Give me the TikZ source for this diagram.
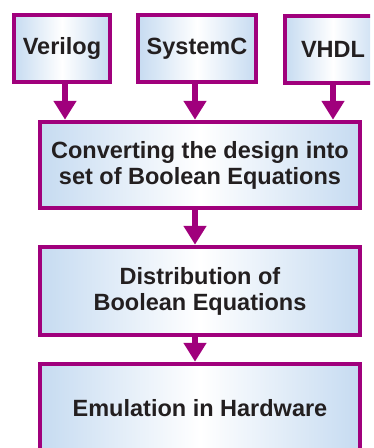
\documentclass[tikz,border=0pt]{standalone}
\usepackage{fontspec}
\setmainfont{Liberation Sans}
\usetikzlibrary{arrows.meta}
\definecolor{edge}{RGB}{160,0,124}
\definecolor{sideblue}{RGB}{198,219,241}
\definecolor{ink}{RGB}{35,31,32}
\tikzset{
  box/.style={draw=edge, line width=4.5pt, left color=sideblue, right color=sideblue, middle color=white,
    font=\fontsize{23.5}{26}\selectfont\bfseries, text=ink, align=center, inner sep=0pt},
  flow/.style={draw=edge, line width=6pt, -{Triangle[length=19pt,width=22pt]}}
}
\begin{document}
\begin{tikzpicture}[x=1pt,y=-1pt]
\useasboundingbox (0,0) rectangle (373,448);
\begin{scope}
\clip (0,0) rectangle (370,448);
\node[box, minimum width=96pt, minimum height=67pt] (verilog) at (62,48.5) {Verilog};
\node[box, minimum width=118pt, minimum height=67pt] (systemc) at (197,48.5) {SystemC};
\node[box, minimum width=96pt, minimum height=67pt] (vhdl) at (333,49.5) {VHDL};
\node[box, minimum width=320pt, minimum height=86pt] (conv) at (200,165) {Converting the design into\\set of Boolean Equations};
\node[box, minimum width=320pt, minimum height=88pt] (dist) at (200,291) {Distribution of\\Boolean Equations};
\node[box, minimum width=320pt, minimum height=88pt] (emu) at (200,408) {Emulation in Hardware};
\draw[flow] ([xshift=3pt]verilog.south) -- ([xshift=3pt]verilog.south |- conv.north);
\draw[flow] ([xshift=-2pt]systemc.south) -- ([xshift=-2pt]systemc.south |- conv.north);
\draw[flow] (vhdl.south) -- (vhdl.south |- conv.north);
\draw[flow] ([xshift=-5pt]conv.south) -- ([xshift=-5pt]conv.south |- dist.north);
\draw[flow] ([xshift=-5pt]dist.south) -- ([xshift=-5pt]dist.south |- emu.north);
\end{scope}
\end{tikzpicture}
\end{document}
